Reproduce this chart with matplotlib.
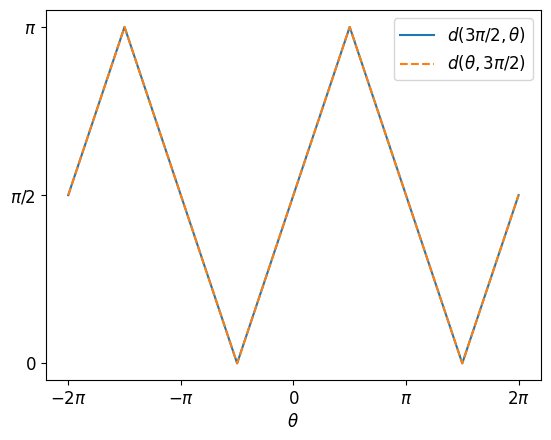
import numpy as np
import matplotlib.pyplot as plt

# vertices of the piecewise linear angular distance curve
theta = np.array([-2, -1.5, -0.5, 0.5, 1.5, 2]) * np.pi
d_a = np.array([0.5, 1.0, 0.0, 1.0, 0.0, 0.5]) * np.pi   # d(3pi/2, theta)
d_b = np.array([0.5, 1.0, 0.0, 1.0, 0.0, 0.5]) * np.pi   # d(theta, 3pi/2)

xticks = np.array([-2, -1, 0, 1, 2]) * np.pi
xlabels = [r'$-2\pi$', r'$-\pi$', r'$0$', r'$\pi$', r'$2\pi$']
yticks = np.array([0, 0.5, 1]) * np.pi
ylabels = [r'$0$', r'$\pi/2$', r'$\pi$']

plt.rcParams['font.size'] = 12
fig = plt.figure(figsize=(5.51, 4.4), dpi=100)
ax = fig.add_axes([0.083, 0.136, 0.899, 0.841])
ax.plot(theta, d_a, label=r'$d(3\pi/2, \theta)$')
ax.plot(theta, d_b, '--', label=r'$d(\theta, 3\pi/2)$')
ax.set_xticks(xticks, xlabels)
ax.set_yticks(yticks, ylabels)
ax.set_xlabel(r'$\theta$')
ax.legend()
fig.savefig('out.png')
